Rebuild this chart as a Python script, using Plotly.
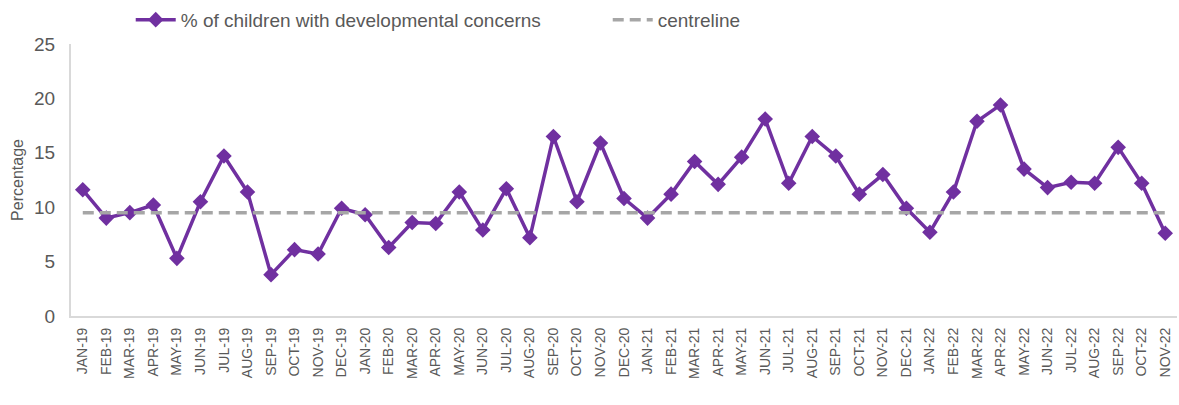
import plotly.graph_objects as go

months = ["JAN-19","FEB-19","MAR-19","APR-19","MAY-19","JUN-19","JUL-19","AUG-19","SEP-19","OCT-19","NOV-19","DEC-19",
          "JAN-20","FEB-20","MAR-20","APR-20","MAY-20","JUN-20","JUL-20","AUG-20","SEP-20","OCT-20","NOV-20","DEC-20",
          "JAN-21","FEB-21","MAR-21","APR-21","MAY-21","JUN-21","JUL-21","AUG-21","SEP-21","OCT-21","NOV-21","DEC-21",
          "JAN-22","FEB-22","MAR-22","APR-22","MAY-22","JUN-22","JUL-22","AUG-22","SEP-22","OCT-22","NOV-22"]
pct_concerns = [11.6, 9.0, 9.5, 10.2, 5.3, 10.5, 14.7, 11.4, 3.8, 6.1, 5.7, 9.9,
                9.3, 6.3, 8.6, 8.5, 11.4, 7.9, 11.7, 7.2, 16.5, 10.5, 15.9, 10.8,
                9.0, 11.2, 14.2, 12.1, 14.6, 18.1, 12.2, 16.5, 14.7, 11.2, 13.0, 9.9,
                7.7, 11.4, 17.9, 19.4, 13.5, 11.8, 12.3, 12.2, 15.5, 12.2, 7.6]
centreline_value = 9.5
centreline = [centreline_value] * len(months)
y_ticks = [0, 5, 10, 15, 20, 25]

txt = "#595959"
fig = go.Figure()
fig.add_trace(go.Scatter(
    x=months, y=pct_concerns, mode="lines+markers",
    name="% of children with developmental concerns",
    line=dict(color="#7030A0", width=3.5),
    marker=dict(symbol="diamond", size=12, color="#7030A0"),
))
fig.add_trace(go.Scatter(
    x=months, y=centreline, mode="lines", name="centreline",
    line=dict(color="#A6A6A6", width=3.5, dash="11px,6px"),
))
fig.update_layout(
    width=1179, height=405,
    margin=dict(l=71, r=2, t=43, b=89),
    paper_bgcolor="white", plot_bgcolor="white",
    font=dict(family="Liberation Sans, Arial", color=txt, size=16),
    showlegend=True,
    legend=dict(orientation="h", x=0.054, xanchor="left",
                y=1.085, yanchor="middle",
                font=dict(size=19, color=txt), traceorder="normal", itemwidth=40,
                entrywidth=422, entrywidthmode="pixels"),
)
fig.update_xaxes(
    type="category", range=[-0.5, len(months) - 0.5],
    tickangle=-90, tickfont=dict(size=14, color=txt),
    showline=True, linecolor="#D9D9D9", linewidth=2, showgrid=False,
    ticks="", ticklabelstandoff=4, automargin=False,
)
fig.update_yaxes(
    range=[0, 25], tickvals=y_ticks, tickfont=dict(size=19, color=txt),
    title=dict(text="Percentage", font=dict(size=16, color=txt), standoff=6),
    showline=True, linecolor="#D9D9D9", linewidth=2, showgrid=False,
    zeroline=False, ticks="", automargin=False, ticklabelstandoff=10,
)
fig.write_html("out.html", config={"displayModeBar": False},
               post_script="document.body.style.margin='0';")
